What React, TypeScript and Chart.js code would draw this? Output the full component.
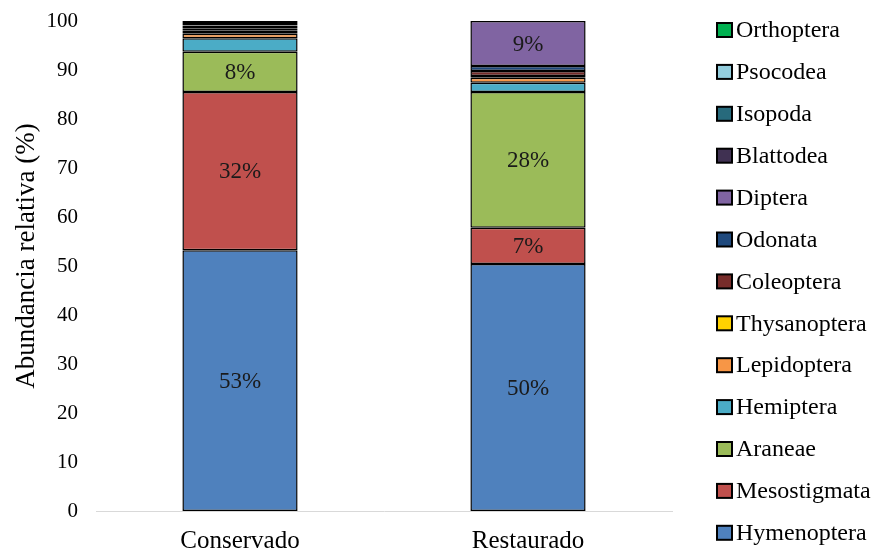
import React, { useEffect, useRef } from 'react';
import { Chart, registerables } from 'chart.js';

Chart.register(...registerables);

const categories = ['Conservado', 'Restaurado'];

const taxa = [
  'Hymenoptera', 'Mesostigmata', 'Araneae', 'Hemiptera', 'Lepidoptera', 'Thysanoptera',
  'Coleoptera', 'Odonata', 'Diptera', 'Blattodea', 'Isopoda', 'Psocodea', 'Orthoptera',
];

const hymenoptera = [53.2, 50.4];
const mesostigmata = [32.3, 7.4];
const araneae = [8.2, 27.7];
const hemiptera = [2.8, 1.9];
const lepidoptera = [0.9, 1.0];
const thysanoptera = [0.6, 0.4];
const coleoptera = [0.5, 1.0];
const odonata = [0.3, 1.0];
const diptera = [0.3, 9.2];
const blattodea = [0.3, 0];
const isopoda = [0.2, 0];
const psocodea = [0.2, 0];
const orthoptera = [0.2, 0];

const seriesValues = [
  hymenoptera, mesostigmata, araneae, hemiptera, lepidoptera, thysanoptera,
  coleoptera, odonata, diptera, blattodea, isopoda, psocodea, orthoptera,
];

const colors = [
  '#4F81BD', '#C0504D', '#9BBB59', '#4BACC6', '#F79646', '#FFD200',
  '#772C2A', '#1F497D', '#8064A2', '#403152', '#276A7C', '#93CDDD', '#00B050',
];

const yTicks = [0, 10, 20, 30, 40, 50, 60, 70, 80, 90, 100];
const yTitle = 'Abundancia relativa (%)';

const FONT = '"Liberation Serif", "Times New Roman", serif';

const labelPlugin = {
  id: 'segLabels',
  afterDatasetsDraw(chart: any) {
    const ctx = chart.ctx;
    ctx.save();
    ctx.font = `23px ${FONT}`;
    ctx.fillStyle = '#1a1a1a';
    ctx.textAlign = 'center';
    ctx.textBaseline = 'middle';
    chart.data.datasets.forEach((ds: any, di: number) => {
      const meta = chart.getDatasetMeta(di);
      meta.data.forEach((el: any, i: number) => {
        const v = ds.data[i];
        if (v >= 5) {
          ctx.fillText(Math.round(v) + '%', el.x, (el.y + el.base) / 2 + 1);
        }
      });
    });
    ctx.restore();
  },
};

const legendPlugin = {
  id: 'customLegend',
  afterDraw(chart: any) {
    const ctx = chart.ctx;
    ctx.save();
    ctx.font = `27px ${FONT}`;
    ctx.fillStyle = '#000';
    ctx.textAlign = 'center';
    ctx.textBaseline = 'middle';
    ctx.translate(27, 256);
    ctx.rotate(-Math.PI / 2);
    ctx.fillText(yTitle, 0, 0);
    ctx.restore();

    ctx.save();
    ctx.font = `24px ${FONT}`;
    ctx.textBaseline = 'middle';
    ctx.textAlign = 'left';
    const ds = chart.data.datasets.slice().reverse();
    ds.forEach((d: any, k: number) => {
      const y = 30 + k * 41.9;
      ctx.fillStyle = d.backgroundColor;
      ctx.fillRect(717, y - 7, 15, 14);
      ctx.lineWidth = 2;
      ctx.strokeStyle = '#000';
      ctx.strokeRect(717, y - 7, 15, 14);
      ctx.fillStyle = '#000';
      ctx.fillText(d.label, 736, y + 1);
    });
    ctx.restore();
  },
};

export default function App() {
  const ref = useRef<HTMLCanvasElement>(null);
  useEffect(() => {
    document.body.style.margin = '0';
    const chart = new Chart(ref.current as HTMLCanvasElement, {
      type: 'bar',
      data: {
        labels: categories,
        datasets: taxa.map((t, i) => ({
          label: t,
          data: seriesValues[i],
          backgroundColor: colors[i],
          borderColor: '#000',
          borderWidth: 1.5,
          borderSkipped: false,
          barPercentage: 0.4,
          categoryPercentage: 1,
        })),
      },
      options: {
        responsive: false,
        animation: false,
        layout: { padding: { top: 21, right: 208, bottom: 0, left: 0 } },
        plugins: {
          legend: { display: false },
          tooltip: { enabled: false },
        },
        scales: {
          x: {
            stacked: true,
            grid: { display: false, drawTicks: false },
            border: { display: true, color: '#d9d9d9', width: 1 },
            ticks: { color: '#000', font: { family: FONT, size: 25 }, padding: 15 },
            afterFit: (s: any) => { s.height = 43; s.paddingLeft = 0; s.paddingRight = 0; },
          },
          y: {
            stacked: true,
            min: 0,
            max: 100,
            afterBuildTicks: (s: any) => { s.ticks = yTicks.map((v) => ({ value: v })); },
            grid: { display: false, drawTicks: false },
            border: { display: false },
            ticks: { color: '#000', font: { family: FONT, size: 21 }, padding: 18 },
            title: { display: false },
            afterFit: (s: any) => { s.width = 96; s.paddingTop = 0; s.paddingBottom = 0; },
          },
        },
      },
      plugins: [labelPlugin, legendPlugin],
    });
    return () => chart.destroy();
  }, []);
  return (
    <div style={{ width: 880, height: 554 }}>
      <canvas ref={ref} width={880} height={554} />
    </div>
  );
}
